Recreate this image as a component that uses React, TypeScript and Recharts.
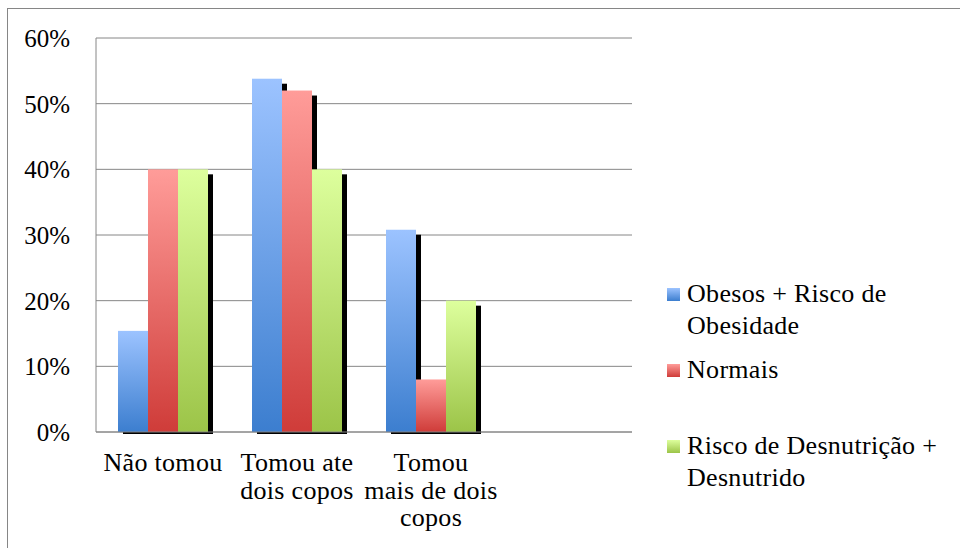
import React from 'react';
import { BarChart, Bar, XAxis, YAxis, CartesianGrid, Legend } from 'recharts';

const categoryLines: string[][] = [["Não tomou"], ["Tomou ate", "dois copos"], ["Tomou", "mais de dois", "copos"]];
const categories = categoryLines.map((l) => l.join(' '));
const obesos = [15.4, 53.8, 30.8];
const normais = [40, 52, 8];
const desnutricao = [40, 40, 20];
const yTicks = [0, 10, 20, 30, 40, 50, 60];
const seriesNames = ["Obesos + Risco de Obesidade", "Normais", "Risco de Desnutrição + Desnutrido"];
const seriesKeys = ["obesos", "normais", "desnutricao"];
const gradTop = ["#9CC3FF", "#FF9C99", "#DDFF9D"];
const gradBottom = ["#3C7ECF", "#CF3C39", "#9CC448"];

const data = categories.map((c, i) => ({
  name: c,
  obesos: obesos[i],
  normais: normais[i],
  desnutricao: desnutricao[i],
}));

const FONT = '"Liberation Serif", "Times New Roman", Times';
const GRID = '#868686';

const ShadowBar = (props: any) => {
  const { x, y, width, height, fill } = props;
  if (!height || height <= 0) return null;
  return (
    <g>
      <rect x={x + 5} y={y + 5} width={width} height={height - 3} fill="#000" />
      <rect x={x} y={y} width={width} height={height} fill={fill} />
    </g>
  );
};

const XTick = (props: any) => {
  const { x, y, payload } = props;
  const idx = categories.indexOf(payload.value);
  const lines = idx >= 0 ? categoryLines[idx] : [String(payload.value)];
  return (
    <text
      x={x}
      y={y + 39}
      textAnchor="middle"
      style={{ fontFamily: FONT, fontSize: 26, letterSpacing: '0.3px' }}
      fill="#000"
    >
      {lines.map((l, i) => (
        <tspan key={i} x={x} dy={i === 0 ? 0 : 27.5}>{l}</tspan>
      ))}
    </text>
  );
};

const itemGaps = [0, 12, 44];

const LegendContent = () => (
  <div style={{ fontFamily: FONT, fontSize: 26, letterSpacing: '0.3px', color: '#000', lineHeight: '32px' }}>
    {seriesNames.map((n, i) => (
      <div key={i} style={{ display: 'flex', alignItems: 'flex-start', marginTop: itemGaps[i] }}>
        <div
          style={{
            width: 13,
            height: 13,
            flex: 'none',
            marginTop: 10,
            marginRight: 7,
            background: `linear-gradient(${gradTop[i]}, ${gradBottom[i]})`,
          }}
        />
        <div style={{ width: 268 }}>{n}</div>
      </div>
    ))}
  </div>
);

export default function App() {
  return (
    <div style={{ position: 'absolute', left: 0, top: 0, width: 960, height: 548, overflow: 'hidden', background: '#fff' }}>
      <div
        style={{
          position: 'absolute',
          left: 7,
          top: 8,
          width: 1000,
          height: 600,
          borderLeft: `1px solid ${GRID}`,
          borderTop: `1px solid ${GRID}`,
        }}
      />
      <div style={{ position: 'absolute', left: 0, top: 0 }}>
        <BarChart
          width={960}
          height={548}
          data={data}
          margin={{ top: 38, right: 328, bottom: 86, left: 0 }}
          barCategoryGap={22}
          barGap={0}
          style={{ fontFamily: FONT }}
        >
          <defs>
            {seriesKeys.map((k, i) => (
              <linearGradient key={k} id={`grad-${k}`} x1="0" y1="0" x2="0" y2="1">
                <stop offset="0%" stopColor={gradTop[i]} />
                <stop offset="100%" stopColor={gradBottom[i]} />
              </linearGradient>
            ))}
          </defs>
          <CartesianGrid vertical={false} stroke={GRID} strokeWidth={1} />
          <XAxis
            dataKey="name"
            height={30}
            padding={{ left: 0, right: 134 }}
            axisLine={{ stroke: GRID }}
            tickLine={false}
            tickSize={0}
            tickMargin={0}
            interval={0}
            tick={<XTick />}
          />
          <YAxis
            width={96}
            domain={[0, 60]}
            ticks={yTicks}
            interval={0}
            tickFormatter={(v: number) => `${v}%`}
            axisLine={{ stroke: GRID }}
            tickLine={false}
            tickSize={0}
            tickMargin={26}
            tick={{ fontFamily: FONT, fontSize: 25, fill: '#000' }}
          />
          <Legend
            layout="horizontal"
            verticalAlign="middle"
            align="center"
            content={<LegendContent />}
            wrapperStyle={{ position: 'absolute', left: 667, top: 278, width: 290, height: 230 }}
          />
          {seriesKeys.map((k, i) => (
            <Bar
              key={k}
              dataKey={k}
              name={seriesNames[i]}
              fill={`url(#grad-${k})`}
              shape={<ShadowBar />}
              isAnimationActive={false}
            />
          ))}
        </BarChart>
      </div>
    </div>
  );
}
